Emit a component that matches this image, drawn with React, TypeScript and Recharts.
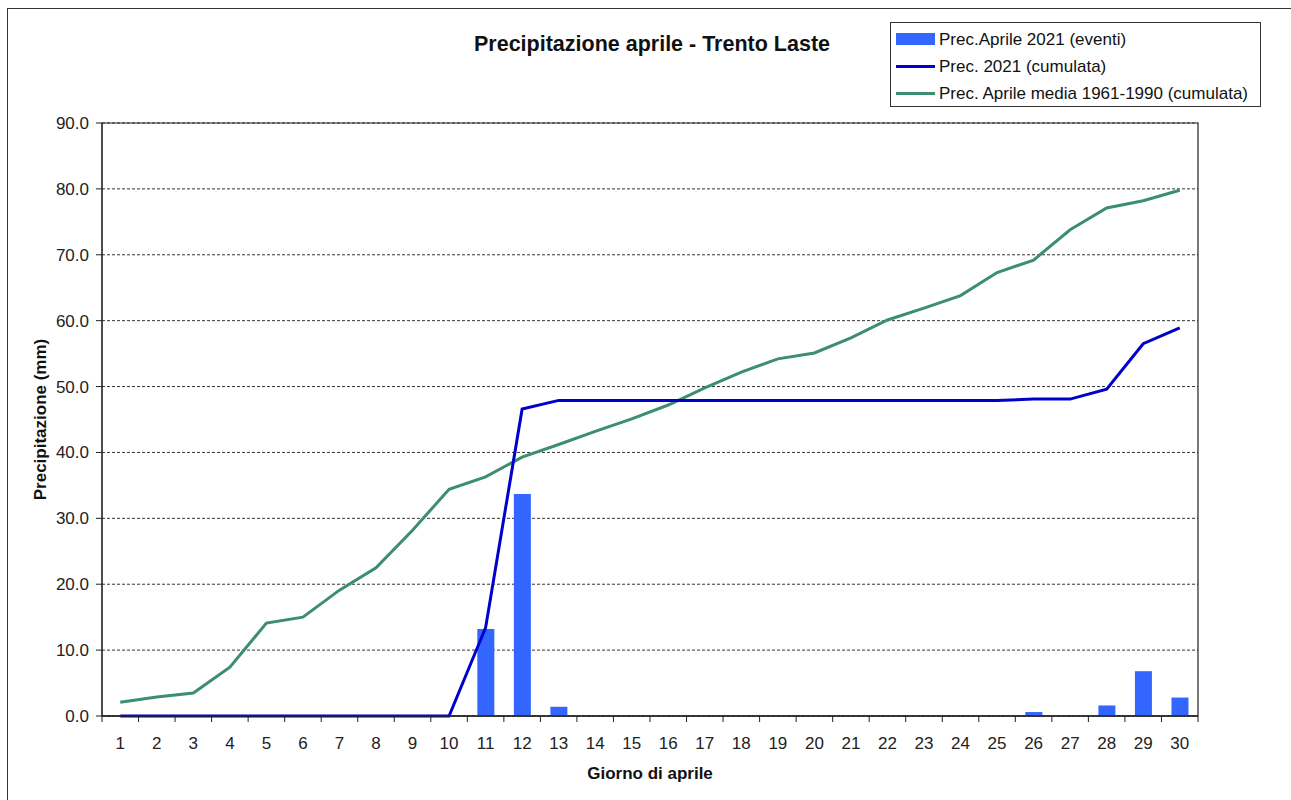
import React from "react";
import {
  ComposedChart,
  Bar,
  Line,
  XAxis,
  YAxis,
  CartesianGrid,
  Legend,
  ReferenceArea,
  Label,
} from "recharts";

const days = [
  1, 2, 3, 4, 5, 6, 7, 8, 9, 10, 11, 12, 13, 14, 15, 16, 17, 18, 19, 20, 21, 22,
  23, 24, 25, 26, 27, 28, 29, 30,
];

const events2021 = [
  0, 0, 0, 0, 0, 0, 0, 0, 0, 0, 13.2, 33.7, 1.4, 0, 0, 0, 0, 0, 0, 0, 0, 0, 0,
  0, 0, 0.6, 0, 1.6, 6.8, 2.8,
];

const cumulative2021 = [
  0, 0, 0, 0, 0, 0, 0, 0, 0, 0, 13.4, 46.6, 47.9, 47.9, 47.9, 47.9, 47.9, 47.9,
  47.9, 47.9, 47.9, 47.9, 47.9, 47.9, 47.9, 48.1, 48.1, 49.6, 56.5, 58.9,
];

const meanCumulative = [
  2.1, 2.9, 3.5, 7.4, 14.1, 15.0, 19.1, 22.5, 28.2, 34.4, 36.3, 39.3, 41.2,
  43.2, 45.1, 47.2, 49.8, 52.2, 54.2, 55.1, 57.4, 60.1, 61.9, 63.8, 67.3, 69.2,
  73.8, 77.1, 78.2, 79.8,
];

const yTicks = [0, 10, 20, 30, 40, 50, 60, 70, 80, 90];

const seriesNames = [
  "Prec.Aprile 2021 (eventi)",
  "Prec. 2021 (cumulata)",
  "Prec. Aprile media 1961-1990 (cumulata)",
];

const BAR_COLOR = "#3366FF";
const BLUE_LINE = "#0000CC";
const GREEN_LINE = "#3B8E6E";
const FONT = "Arial, 'Liberation Sans', sans-serif";

const data = days.map((d, i) => ({
  day: d,
  events: events2021[i],
  cum: cumulative2021[i],
  mean: meanCumulative[i],
}));

const XTick = (props: any) => {
  const { x, y, payload, index } = props;
  const half = payload && typeof payload.offset === "number" && payload.offset > 0 ? payload.offset : 18.3;
  const last = index === days.length - 1;
  return (
    <g>
      <line x1={x - half} x2={x - half} y1={y} y2={y + 6} stroke="#222" strokeWidth={1} />
      {last && <line x1={x + half} x2={x + half} y1={y} y2={y + 6} stroke="#222" strokeWidth={1} />}
      <text x={x} y={y + 33} textAnchor="middle" fontFamily={FONT} fontSize={17} fill="#222">
        {payload.value}
      </text>
    </g>
  );
};

const LegendBox = () => (
  <div
    style={{
      boxSizing: "border-box",
      width: 371,
      height: 85,
      border: "1px solid #333",
      background: "#fff",
      fontFamily: FONT,
      fontSize: 17,
      color: "#111",
      paddingTop: 3,
    }}
  >
    {seriesNames.map((name, i) => (
      <div key={name} style={{ display: "flex", alignItems: "center", height: 27, whiteSpace: "nowrap" }}>
        <svg width={48} height={27} style={{ flex: "none" }}>
          {i === 0 ? (
            <rect x={5} y={7} width={39} height={12} fill={BAR_COLOR} />
          ) : (
            <line x1={5} x2={44} y1={13.5} y2={13.5} stroke={i === 1 ? BLUE_LINE : GREEN_LINE} strokeWidth={3} />
          )}
        </svg>
        <span style={{ marginLeft: 0 }}>{name}</span>
      </div>
    ))}
  </div>
);

export default function App() {
  return (
    <div style={{ position: "absolute", left: 0, top: 0, width: 1291, height: 800, overflow: "hidden", background: "#fff" }}>
      <div
        style={{
          position: "absolute",
          left: 7,
          top: 8,
          width: 1400,
          height: 900,
          borderLeft: "1px solid #333",
          borderTop: "1px solid #333",
        }}
      />
      <svg style={{ position: "absolute", left: 0, top: 0 }} width={1291} height={70}>
        <text x={652} y={51} textAnchor="middle" fontFamily={FONT} fontSize={21.5} fontWeight="bold" fill="#111">
          Precipitazione aprile - Trento Laste
        </text>
      </svg>
      <div style={{ position: "absolute", left: 0, top: 0 }}>
        <ComposedChart
          width={1291}
          height={800}
          data={data}
          margin={{ top: 123, right: 93, bottom: 44, left: 42 }}
          barSize={17}
        >
          <CartesianGrid horizontal vertical={false} stroke="#333" strokeDasharray="3 2" />
          <XAxis
            dataKey="day"
            type="category"
            height={40}
            tickLine={false}
            tickSize={0}
            tickMargin={0}
            interval={0}
            axisLine={{ stroke: "#222", strokeWidth: 1.5 }}
            tick={<XTick />}
          >
            <Label
              content={(p: any) => {
                const vb = p.viewBox || { x: 0, y: 0, width: 0 };
                return (
                  <text
                    x={vb.x + vb.width / 2}
                    y={vb.y + 57}
                    textAnchor="middle"
                    dominantBaseline="central"
                    fontFamily={FONT}
                    fontSize={17}
                    fontWeight="bold"
                    fill="#111"
                  >
                    Giorno di aprile
                  </text>
                );
              }}
            />
          </XAxis>
          <YAxis
            type="number"
            domain={[0, 90]}
            ticks={yTicks}
            interval={0}
            width={60}
            tickSize={6}
            tickMargin={7}
            tickLine={{ stroke: "#222" }}
            axisLine={{ stroke: "#222" }}
            tickFormatter={(v: number) => v.toFixed(1)}
            tick={{ fontFamily: FONT, fontSize: 17, fill: "#222" }}
          >
            <Label
              content={(p: any) => {
                const vb = p.viewBox || { x: 0, y: 0, height: 0 };
                const cy = vb.y + vb.height / 2;
                const cx = vb.x - 2;
                return (
                  <text
                    x={cx}
                    y={cy}
                    transform={`rotate(-90, ${cx}, ${cy})`}
                    textAnchor="middle"
                    dominantBaseline="central"
                    fontFamily={FONT}
                    fontSize={17}
                    fontWeight="bold"
                    fill="#111"
                  >
                    Precipitazione (mm)
                  </text>
                );
              }}
            />
          </YAxis>
          <Legend
            layout="vertical"
            align="center"
            verticalAlign="middle"
            content={<LegendBox />}
            wrapperStyle={{ left: 890, top: 22, width: 371, height: 85 }}
          />
          <Bar dataKey="events" name={seriesNames[0]} fill={BAR_COLOR} isAnimationActive={false} />
          <Line
            type="linear"
            dataKey="mean"
            name={seriesNames[2]}
            stroke={GREEN_LINE}
            strokeWidth={3}
            dot={false}
            activeDot={false}
            isAnimationActive={false}
          />
          <Line
            type="linear"
            dataKey="cum"
            name={seriesNames[1]}
            stroke={BLUE_LINE}
            strokeWidth={3}
            dot={false}
            activeDot={false}
            isAnimationActive={false}
          />
          <ReferenceArea
            x1={1}
            x2={30}
            y1={0}
            y2={90}
            fill="none"
            fillOpacity={0}
            stroke="#222"
            strokeWidth={1.2}
            ifOverflow="visible"
          />
        </ComposedChart>
      </div>
    </div>
  );
}
